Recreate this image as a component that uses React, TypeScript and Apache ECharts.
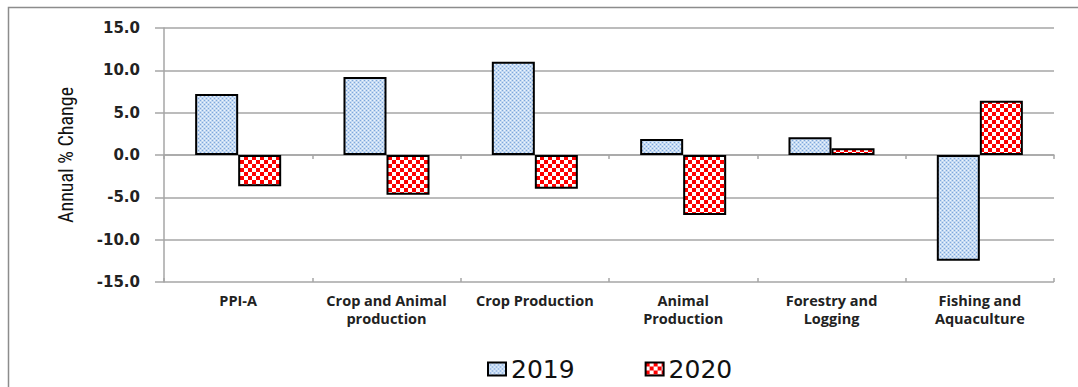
import React, { useEffect, useRef } from "react";
import * as echarts from "echarts";

const categories = [
  "PPI-A",
  "Crop and Animal\nproduction",
  "Crop Production",
  "Animal\nProduction",
  "Forestry and\nLogging",
  "Fishing and\nAquaculture",
];
const values2019 = [7.2, 9.2, 11.0, 1.9, 2.1, -12.5];
const values2020 = [-3.7, -4.7, -4.0, -7.1, 0.8, 6.4];
const seriesNames = ["2019", "2020"];

function makeBluePattern(): HTMLCanvasElement {
  const c = document.createElement("canvas");
  c.width = 4;
  c.height = 4;
  const ctx = c.getContext("2d")!;
  ctx.fillStyle = "#c4d9f2";
  ctx.fillRect(0, 0, 4, 4);
  ctx.fillStyle = "#7ea7dc";
  ctx.fillRect(0, 0, 1, 1);
  ctx.fillRect(2, 2, 1, 1);
  ctx.fillStyle = "#eef5fd";
  ctx.fillRect(2, 0, 1, 1);
  ctx.fillRect(0, 2, 1, 1);
  return c;
}

function makeCheckerPattern(): HTMLCanvasElement {
  const c = document.createElement("canvas");
  c.width = 8;
  c.height = 8;
  const ctx = c.getContext("2d")!;
  ctx.fillStyle = "#ffffff";
  ctx.fillRect(0, 0, 8, 8);
  ctx.fillStyle = "#ff0000";
  ctx.fillRect(0, 0, 4, 4);
  ctx.fillRect(4, 4, 4, 4);
  return c;
}

export default function App() {
  const ref = useRef<HTMLDivElement>(null);
  useEffect(() => {
    document.body.style.margin = "0";
    const chart = echarts.init(ref.current!, null, { renderer: "svg" });
    const blue = { image: makeBluePattern(), repeat: "repeat" };
    const red = { image: makeCheckerPattern(), repeat: "repeat" };
    const gridColor = "#a6a6a6";
    chart.setOption({
      animation: false,
      backgroundColor: "#ffffff",
      graphic: [
        {
          type: "rect",
          shape: { x: 8.5, y: 7.5, width: 1200, height: 500 },
          style: { fill: "none", stroke: "#8c8c8c", lineWidth: 1.5 },
          silent: true,
        },
      ],
      grid: { left: 164, right: 24, top: 28, bottom: 105, containLabel: false },
      legend: {
        data: seriesNames,
        left: 487,
        top: 355,
        padding: 0,
        icon: "rect",
        itemWidth: 18,
        itemHeight: 13,
        itemGap: 70,
        itemStyle: { borderColor: "#000", borderWidth: 2 },
        textStyle: { fontSize: 25, lineHeight: 28, color: "#111", fontFamily: "DejaVu Sans" },
      },
      xAxis: [
        {
          type: "category",
          data: categories,
          position: "bottom",
          axisLine: { show: false, onZero: false },
          axisTick: { show: false },
          splitLine: { show: false },
          axisLabel: {
            interval: 0,
            margin: 9,
            fontSize: 14.5,
            fontWeight: "bold",
            color: "#222",
            fontFamily: "Open Sans",
            lineHeight: 18,
          },
        },
        {
          type: "category",
          data: categories,
          position: "bottom",
          axisLine: { show: true, onZero: true, lineStyle: { color: gridColor, width: 1.5 } },
          axisTick: { show: true, length: 4, inside: false, lineStyle: { color: gridColor, width: 1.5 } },
          axisLabel: { show: false },
          splitLine: { show: false },
        },
        {
          type: "category",
          data: categories,
          position: "bottom",
          axisLine: { show: false, onZero: true },
          axisTick: { show: true, length: 4, inside: true, lineStyle: { color: gridColor, width: 1.5 } },
          axisLabel: { show: false },
          splitLine: { show: false },
        },
      ],
      yAxis: {
        type: "value",
        min: -15,
        max: 15,
        interval: 5,
        name: "Annual % Change",
        nameLocation: "middle",
        nameGap: 88,
        nameTextStyle: { fontSize: 20, color: "#111", fontFamily: "Liberation Sans Narrow, Roboto Condensed, Roboto" },
        axisLine: { show: true, lineStyle: { color: gridColor, width: 1.5 } },
        axisTick: { show: true, length: 9, lineStyle: { color: gridColor, width: 1.5 } },
        splitLine: { show: true, lineStyle: { color: gridColor, width: 1.5 } },
        axisLabel: {
          formatter: (v: number) => v.toFixed(1),
          fontSize: 15,
          fontWeight: "bold",
          color: "#222",
          fontFamily: "DejaVu Sans",
          margin: 24,
        },
      },
      series: [
        {
          name: seriesNames[0],
          type: "bar",
          data: values2019,
          barGap: "0%",
          barCategoryGap: "42%",
          itemStyle: { color: blue, borderColor: "#000", borderWidth: 2 },
        },
        {
          name: seriesNames[1],
          type: "bar",
          data: values2020,
          barGap: "0%",
          barCategoryGap: "42%",
          itemStyle: { color: red, borderColor: "#000", borderWidth: 2 },
        },
      ],
    });
    return () => chart.dispose();
  }, []);
  return <div ref={ref} style={{ width: 1078, height: 387 }} />;
}
